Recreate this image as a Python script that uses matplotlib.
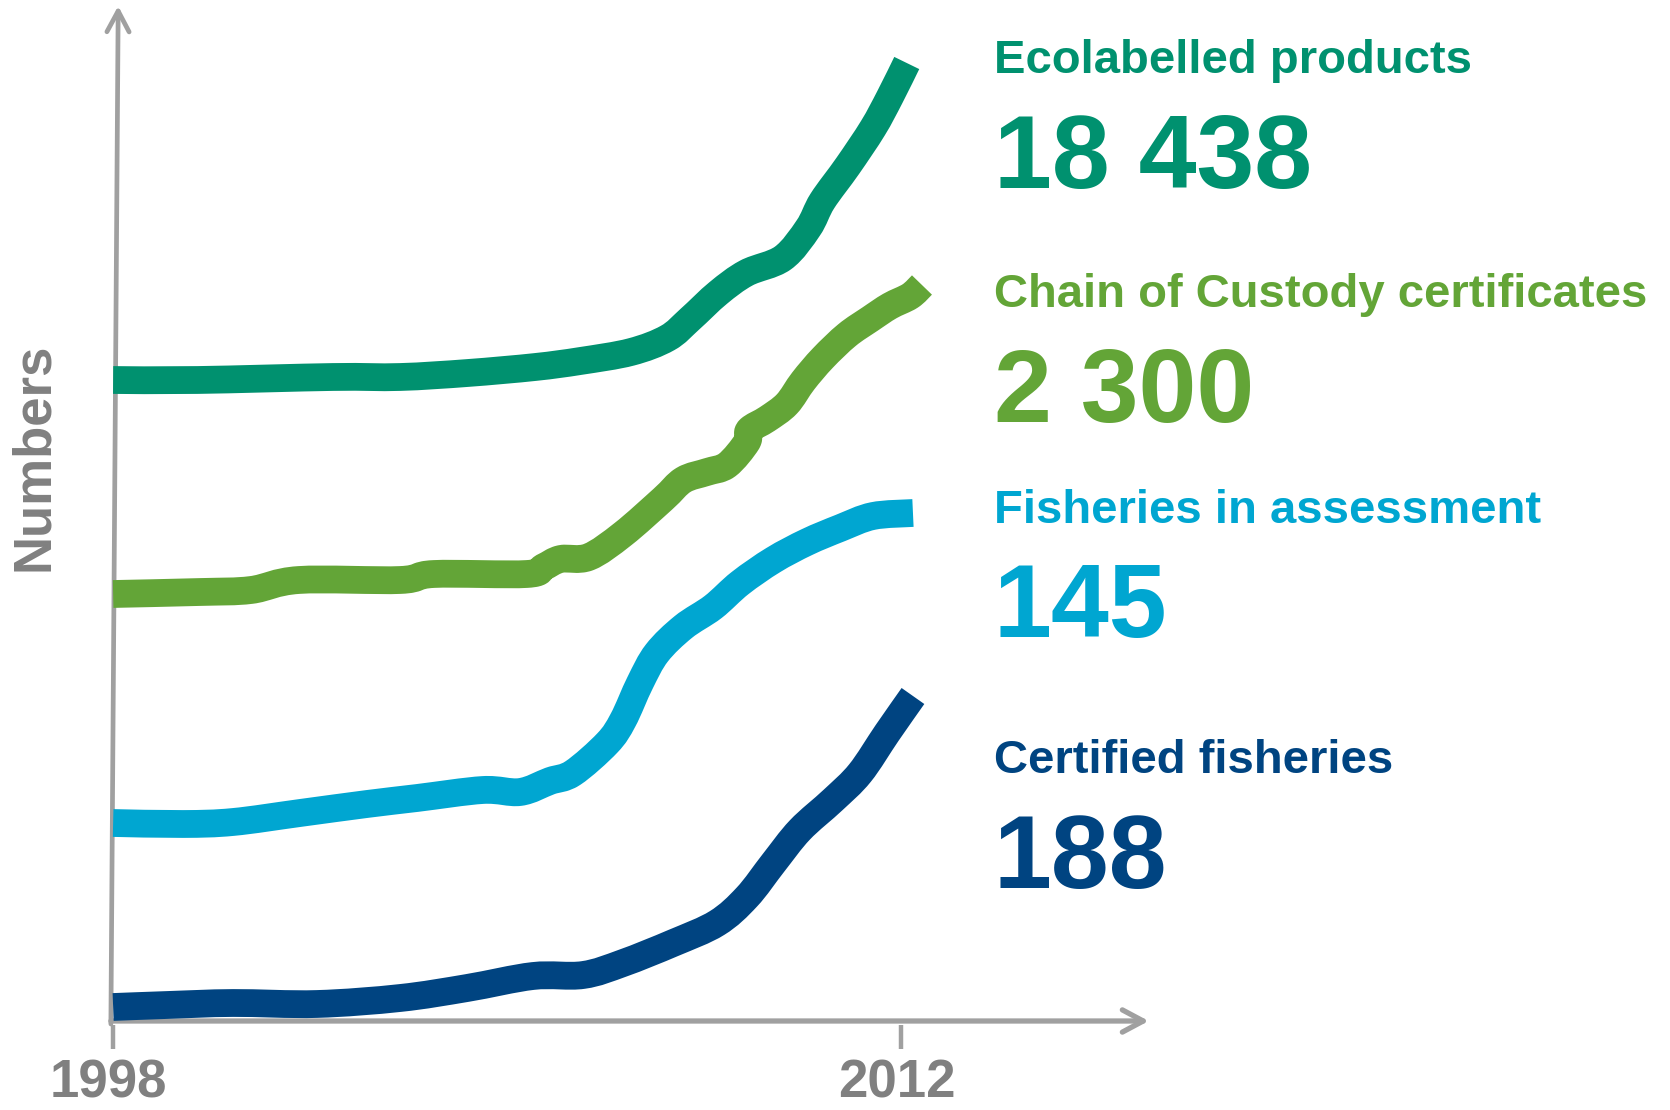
import numpy as np
import matplotlib.pyplot as plt
from matplotlib.patches import FancyArrowPatch, PathPatch
from matplotlib.path import Path

plt.rcParams['font.family'] = ['Liberation Sans', 'DejaVu Sans']

#### values (x in years, y in arbitrary "numbers" units) ####
eco_years = [1998.0, 1999.5, 2001.9, 2003.1, 2004.3, 2005.5, 2006.3, 2007.2, 2007.85,
             2008.25, 2008.75, 2009.25, 2009.9, 2010.35, 2010.6, 2011.05, 2011.5, 2011.8, 2012.1]
eco_vals = [64.1, 64.1, 64.4, 64.4, 64.8, 65.4, 66.0, 66.9, 68.3,
            70.2, 72.8, 74.8, 76.3, 79.3, 82.0, 85.5, 89.3, 92.4, 95.8]

coc_years = [1998.0, 1999.55, 2000.45, 2001.3, 2003.1, 2003.7, 2005.35, 2005.65, 2005.95, 2006.45,
             2007.06, 2007.77, 2008.13, 2008.55, 2008.91, 2009.26, 2009.3, 2009.62, 2009.97,
             2010.26, 2010.61, 2011.04, 2011.45, 2011.8, 2012.16, 2012.37]
coc_vals = [42.7, 42.9, 43.1, 44.1, 44.1, 44.7, 44.7, 45.4, 46.2, 46.4,
            48.7, 52.2, 54.1, 54.9, 55.6, 57.9, 59.1, 60.2, 61.7,
            64.0, 66.3, 68.6, 70.2, 71.5, 72.5, 73.6]

fia_years = [1998.0, 1999.24, 2000.13, 2001.32, 2002.51, 2003.4, 2004.57, 2005.23, 2005.76, 2006.17,
             2006.78, 2007.06, 2007.36, 2007.66, 2008.13, 2008.66, 2009.14, 2009.73, 2010.33,
             2010.92, 2011.5, 2012.21]
fia_vals = [19.8, 19.7, 19.9, 20.8, 21.7, 22.3, 23.1, 22.9, 24.0, 24.8,
            27.8, 30.1, 33.8, 36.8, 39.4, 41.4, 43.8, 46.1, 47.9,
            49.3, 50.5, 50.8]

cert_years = [1998.0, 1998.96, 2000.13, 2001.62, 2003.1, 2004.29, 2005.46, 2006.35, 2007.06, 2007.95,
              2008.73, 2009.26, 2009.73, 2010.2, 2010.79, 2011.27, 2011.75, 2012.21]
cert_vals = [1.4, 1.6, 1.8, 1.7, 2.3, 3.3, 4.5, 4.6, 5.8, 7.8,
             9.8, 12.4, 15.8, 19.1, 22.1, 24.8, 28.8, 32.5]

labels = ['Ecolabelled products', 'Chain of Custody certificates',
          'Fisheries in assessment', 'Certified fisheries']
totals = ['18 438', '2 300', '145', '188']
colors = ['#00916F', '#63A537', '#00A6D1', '#004481']
tick_years = [1998, 2012]


def smooth_path(xs, ys):
    # catmull-rom through the read points, drawn as cubic bezier segments
    pts = np.column_stack([xs, ys]).astype(float)
    n = len(pts)
    verts = [pts[0]]
    codes = [Path.MOVETO]
    for i in range(n - 1):
        p0 = pts[max(i - 1, 0)]
        p1 = pts[i]
        p2 = pts[i + 1]
        p3 = pts[min(i + 2, n - 1)]
        verts += [p1 + (p2 - p0) / 6.0, p2 - (p3 - p1) / 6.0, p2]
        codes += [Path.CURVE4] * 3
    return Path(verts, codes)


#### figure ####
fig = plt.figure(figsize=(16.7, 11.1), dpi=100)
ax = fig.add_axes([0, 0, 1, 1])
ax.set_xlim(1995.99, 2025.66)
ax.set_ylim(-8.9, 102.1)
ax.axis('off')

grey = '#A0A0A0'
# axes drawn as arrows, y axis slightly leaning like the original
yaxis = FancyArrowPatch((1997.96, -0.3), (1998.09, 101.5), arrowstyle='->,head_length=15,head_width=8',
                        mutation_scale=1, lw=3.4, color=grey, shrinkA=0, shrinkB=0,
                        capstyle='round', joinstyle='round')
xaxis = FancyArrowPatch((1997.96, 0), (2016.4, 0), arrowstyle='->,head_length=15,head_width=8',
                        mutation_scale=1, lw=3.8, color=grey, shrinkA=0, shrinkB=0,
                        capstyle='round', joinstyle='round')
ax.add_patch(yaxis)
ax.add_patch(xaxis)

for yr in tick_years:
    ax.plot([yr, yr], [-0.4, -2.8], color=grey, lw=3.2, solid_capstyle='butt')
    ax.text(yr - 0.08, -8.75, str(yr), ha='center', va='bottom', fontsize=38,
            fontweight='bold', color='#808080')

ax.text(1996.6, 56.4, 'Numbers', rotation=90, ha='center', va='center', fontsize=38,
        fontweight='bold', color='#808080')

all_years = [eco_years, coc_years, fia_years, cert_years]
all_vals = [eco_vals, coc_vals, fia_vals, cert_vals]
for yrs, vals, c in zip(all_years, all_vals, colors):
    ax.add_patch(PathPatch(smooth_path(yrs, vals), fill=False, edgecolor=c, lw=20,
                           capstyle='butt', joinstyle='round'))

# labels on the right
label_y = [0.9342, 0.7234, 0.5288, 0.3036]
total_y = [0.8306, 0.6198, 0.4261, 0.2]
for lab, tot, c, ly, ty in zip(labels, totals, colors, label_y, total_y):
    fig.text(0.595, ly, lab, fontsize=34, fontweight='bold', color=c, va='baseline')
    fig.text(0.595, ty, tot, fontsize=75, fontweight='bold', color=c, va='baseline')

fig.savefig('out.png', dpi=100)
